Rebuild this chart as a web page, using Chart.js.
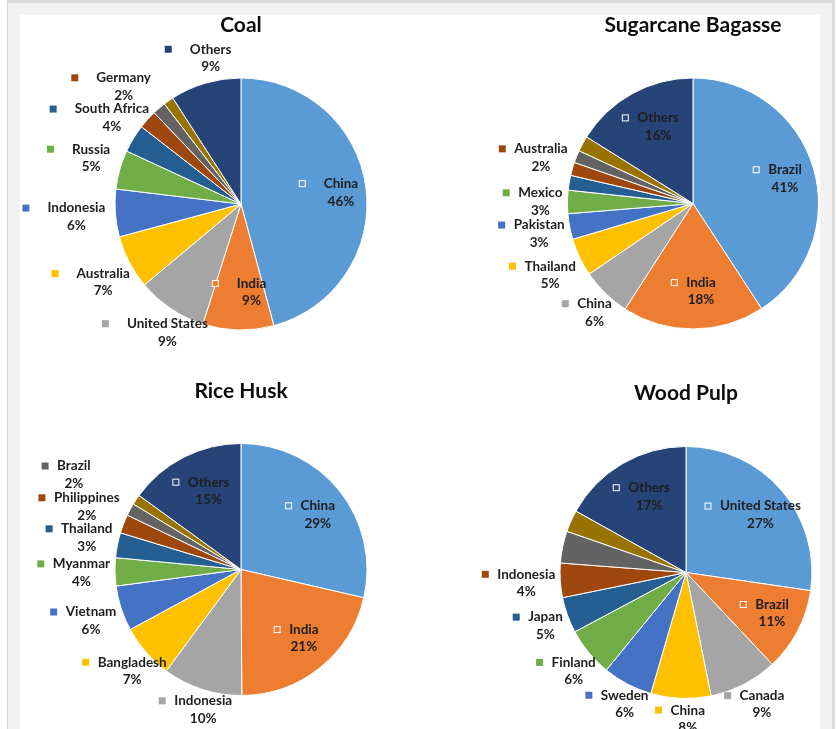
<!DOCTYPE html>
<html>
<head>
<meta charset="utf-8">
<script src="https://cdn.jsdelivr.net/npm/chart.js@4.4.1/dist/chart.umd.min.js"></script>
<style>
html, body { margin: 0; padding: 0; background: #fff; overflow: hidden; }
body { width: 838px; height: 729px; position: relative; }
#frame { position: absolute; left: 7px; top: 0; width: 824px; height: 760px; background: #f2f2f2;
  border-left: 1px solid #d4d4d4; border-top: 3px solid #dadada; border-right: 3px solid #dadada; }
#sheet { position: absolute; left: 20px; top: 15px; width: 800px; height: 714px; background: #fff; }
canvas { position: absolute; }
</style>
</head>
<body>
<div id="frame"></div>
<div id="sheet"></div>
<canvas id="coal"></canvas>
<canvas id="bagasse"></canvas>
<canvas id="rice"></canvas>
<canvas id="pulp"></canvas>
<script>
// slice colours, in slice order (Office palette)
var colors = ['#5B9BD5', '#ED7D31', '#A5A5A5', '#FFC000', '#4472C4', '#70AD47',
              '#255E91', '#9E480E', '#636363', '#997300', '#264478'];

// share of world production (%), unlabeled slices have an empty name
var coalTitle = 'Coal';
var coalNames = ['China', 'India', 'United States', 'Australia', 'Indonesia', 'Russia',
                 'South Africa', 'Germany', '', '', 'Others'];
var coalValues = [45.8, 9.1, 9.0, 6.9, 6.1, 5.0, 3.6, 2.4, 1.7, 1.3, 9.1];

var bagasseTitle = 'Sugarcane Bagasse';
var bagasseNames = ['Brazil', 'India', 'China', 'Thailand', 'Pakistan', 'Mexico',
                    '', 'Australia', '', '', 'Others'];
var bagasseValues = [40.8, 18.3, 6.4, 4.9, 3.3, 3.0, 1.9, 1.7, 1.6, 2.0, 16.1];

var riceTitle = 'Rice Husk';
var riceNames = ['China', 'India', 'Indonesia', 'Bangladesh', 'Vietnam', 'Myanmar',
                 'Thailand', 'Philippines', 'Brazil', '', 'Others'];
var riceValues = [28.6, 21.3, 10.2, 7.0, 5.8, 3.6, 3.2, 2.4, 1.6, 1.3, 15.0];

var pulpTitle = 'Wood Pulp';
var pulpNames = ['United States', 'Brazil', 'Canada', 'China', 'Sweden', 'Finland',
                 'Japan', 'Indonesia', '', '', 'Others'];
var pulpValues = [27.3, 10.7, 8.8, 7.7, 6.4, 6.3, 4.6, 4.4, 4.1, 2.8, 16.9];

Chart.defaults.font.family = 'Lato';
var TITLE_SIZE = 21;
var KEY = 7;       // legend key square
var LINE = 17.5;   // label line height
var LABEL_FONT = 'bold 13.5px Lato';

function overlaps(a, b) {
    return a.x - a.w / 2 < b.x + b.w / 2 && b.x - b.w / 2 < a.x + a.w / 2 &&
           a.y - a.h / 2 < b.y + b.h / 2 && b.y - b.h / 2 < a.y + a.h / 2;
}

// data labels: key square + name, percentage below
var pieLabels = {
    id: 'pieLabels',
    afterDatasetsDraw: function(chart, args, o) {
        var ctx = chart.ctx;
        var ds = chart.data.datasets[0];
        var meta = chart.getDatasetMeta(0);
        var total = ds.data.reduce((a, b) => a + b, 0);
        ctx.save();
        ctx.font = LABEL_FONT;
        var placed = [];
        var outside = [];
        meta.data.forEach(function(arc, i) {
            var name = chart.data.labels[i];
            if (!name) return;
            var mid = (arc.startAngle + arc.endAngle) / 2;
            var nameW = ctx.measureText(name).width;
            var item = {
                name: name,
                pct: Math.round(ds.data[i] / total * 100) + '%',
                nameW: nameW,
                w: KEY + o.keyGap + nameW,
                h: 2 * LINE - 4,
                ux: Math.cos(mid),
                uy: Math.sin(mid),
                color: ds.backgroundColor[i],
                arc: arc,
                inside: o.inside.indexOf(name) >= 0
            };
            if (item.inside) {
                item.x = arc.x + item.ux * arc.outerRadius * o.insideFrac;
                item.y = arc.y + item.uy * arc.outerRadius * o.insideFrac;
                placed.push(item);
            } else {
                outside.push(item);
            }
        });
        // outside labels sit just off the rim, pushed outward until they clear the others
        outside.forEach(function(item) {
            var t = Math.min(item.w / 2 / Math.max(Math.abs(item.ux), 1e-6),
                             item.h / 2 / Math.max(Math.abs(item.uy), 1e-6));
            var d = item.arc.outerRadius + o.gap + t;
            for (var k = 0; k < 60; k++) {
                item.x = item.arc.x + item.ux * d;
                item.y = item.arc.y + item.uy * d;
                if (!placed.some(p => overlaps(p, item))) break;
                d += 2;
            }
            placed.push(item);
        });
        ctx.textBaseline = 'middle';
        ctx.textAlign = 'center';
        placed.forEach(function(item) {
            var left = item.x - item.w / 2;
            var yName = item.y - LINE / 2;
            ctx.fillStyle = item.color;
            ctx.fillRect(left, yName - KEY / 2, KEY, KEY);
            if (item.inside) {
                ctx.strokeStyle = '#fff';
                ctx.lineWidth = 1;
                ctx.strokeRect(left + 0.5, yName - KEY / 2 + 0.5, KEY - 1, KEY - 1);
            }
            var tx = left + KEY + o.keyGap + item.nameW / 2;
            ctx.fillStyle = '#1e1e1e';
            ctx.fillText(item.name, tx, yName);
            ctx.fillText(item.pct, tx, yName + LINE);
        });
        ctx.restore();
    }
};

function drawPie(id, box, title, names, values, geo) {
    var canvas = document.getElementById(id);
    canvas.width = box.width;
    canvas.height = box.height;
    canvas.style.left = box.left + 'px';
    canvas.style.top = box.top + 'px';
    var R = geo.r + 0.5;
    var lineH = TITLE_SIZE * 1.2;
    var titleTop = geo.titleMid - box.top - lineH / 2;
    var areaTop = geo.cy - R - box.top;
    new Chart(canvas, {
        type: 'pie',
        data: {
            labels: names,
            datasets: [{
                data: values,
                backgroundColor: colors,
                borderColor: '#ffffff',
                borderWidth: 1
            }]
        },
        options: {
            responsive: false,
            animation: false,
            devicePixelRatio: 1,
            layout: {
                padding: {
                    left: geo.cx - R - box.left,
                    right: box.left + box.width - geo.cx - R,
                    top: 0,
                    bottom: box.top + box.height - geo.cy - R
                }
            },
            plugins: {
                legend: { display: false },
                tooltip: { enabled: false },
                title: {
                    display: true,
                    text: title,
                    color: '#0d0d0d',
                    font: { size: TITLE_SIZE, weight: 'bold' },
                    padding: { top: titleTop, bottom: areaTop - titleTop - lineH }
                },
                pieLabels: {
                    keyGap: geo.keyGap,
                    gap: geo.gap,
                    insideFrac: 0.7,
                    inside: geo.inside
                }
            }
        },
        plugins: [pieLabels]
    });
}

drawPie('coal', { left: 20, top: 0, width: 400, height: 365 }, coalTitle, coalNames, coalValues,
    { cx: 241, cy: 204, r: 126, titleMid: 25.4, keyGap: 18, gap: 10, inside: ['China', 'India'] });
drawPie('bagasse', { left: 420, top: 0, width: 400, height: 365 }, bagasseTitle, bagasseNames, bagasseValues,
    { cx: 693, cy: 203.5, r: 125.5, titleMid: 24.8, keyGap: 8.5, gap: 5, inside: ['Brazil', 'India', 'Others'] });
drawPie('rice', { left: 20, top: 365, width: 400, height: 364 }, riceTitle, riceNames, riceValues,
    { cx: 241, cy: 569.5, r: 126, titleMid: 391.3, keyGap: 8.5, gap: 5, inside: ['China', 'India', 'Others'] });
drawPie('pulp', { left: 420, top: 365, width: 400, height: 364 }, pulpTitle, pulpNames, pulpValues,
    { cx: 686, cy: 572.5, r: 126, titleMid: 393.6, keyGap: 8.5, gap: 5, inside: ['United States', 'Brazil', 'Others'] });
</script>
</body>
</html>
